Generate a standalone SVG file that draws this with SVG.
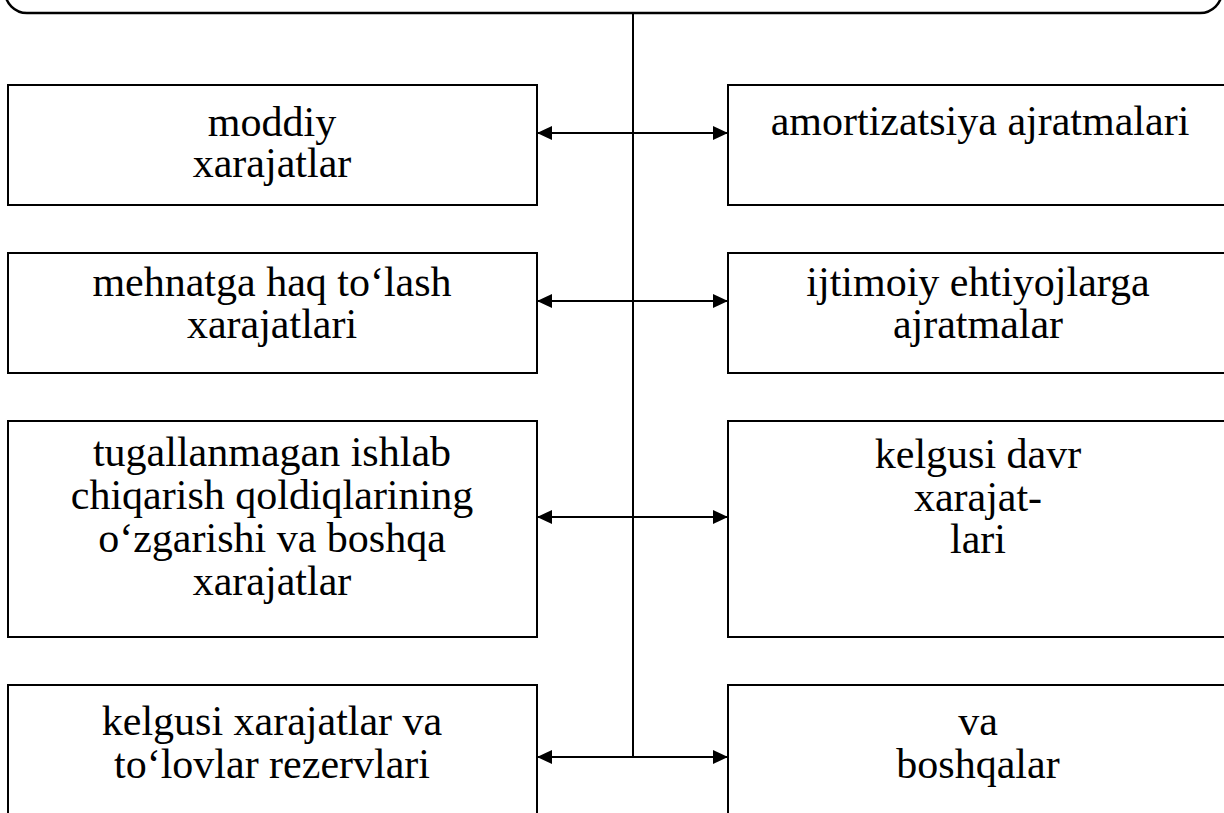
<svg xmlns="http://www.w3.org/2000/svg" width="1224" height="813" viewBox="0 0 1224 813">
<style>
.box{fill:#fff;stroke:#000;stroke-width:2}
.t{font-family:"Liberation Serif","Times New Roman",serif;font-size:42px;fill:#000;text-anchor:middle}
.c{stroke:#000;stroke-width:2;fill:none}
</style>
<defs>
<marker id="ah" viewBox="0 0 15 14" refX="15" refY="7" markerWidth="15" markerHeight="14" markerUnits="userSpaceOnUse" orient="auto-start-reverse">
<path d="M0,0 L15,7 L0,14 Z" fill="#000"/>
</marker>
</defs>
<g id="top"><rect x="5" y="-60" width="1217" height="73" rx="22" ry="22" fill="#fff" stroke="#000" stroke-width="2.5"/></g>
<g id="connectors">
<line class="c" x1="633" y1="13" x2="633" y2="757"/>
<line class="c" x1="537" y1="133" x2="728" y2="133" marker-start="url(#ah)" marker-end="url(#ah)"/>
<line class="c" x1="537" y1="301" x2="728" y2="301" marker-start="url(#ah)" marker-end="url(#ah)"/>
<line class="c" x1="537" y1="517" x2="728" y2="517" marker-start="url(#ah)" marker-end="url(#ah)"/>
<line class="c" x1="537" y1="757" x2="728" y2="757" marker-start="url(#ah)" marker-end="url(#ah)"/>
</g>
<g id="n1"><rect class="box" x="8" y="85" width="529" height="120"/><text class="t" x="272" y="136">moddiy</text><text class="t" x="272" y="177">xarajatlar</text></g>
<g id="n2"><rect class="box" x="728" y="85" width="510" height="120"/><text class="t" x="980" y="135">amortizatsiya ajratmalari</text></g>
<g id="n3"><rect class="box" x="8" y="253" width="529" height="120"/><text class="t" x="272" y="296">mehnatga haq to‘lash</text><text class="t" x="272" y="338">xarajatlari</text></g>
<g id="n4"><rect class="box" x="728" y="253" width="510" height="120"/><text class="t" x="978" y="296">ijtimoiy ehtiyojlarga</text><text class="t" x="978" y="338">ajratmalar</text></g>
<g id="n5"><rect class="box" x="8" y="421" width="529" height="216"/><text class="t" x="272" y="466">tugallanmagan ishlab</text><text class="t" x="272" y="509">chiqarish qoldiqlarining</text><text class="t" x="272" y="552">o‘zgarishi va boshqa</text><text class="t" x="272" y="595">xarajatlar</text></g>
<g id="n6"><rect class="box" x="728" y="421" width="510" height="216"/><text class="t" x="978" y="468">kelgusi davr</text><text class="t" x="978" y="511">xarajat-</text><text class="t" x="978" y="553">lari</text></g>
<g id="n7"><rect class="box" x="8" y="685" width="529" height="150"/><text class="t" x="272" y="735">kelgusi xarajatlar va</text><text class="t" x="272" y="778">to‘lovlar rezervlari</text></g>
<g id="n8"><rect class="box" x="728" y="685" width="510" height="150"/><text class="t" x="978" y="735">va</text><text class="t" x="978" y="778">boshqalar</text></g>
</svg>
